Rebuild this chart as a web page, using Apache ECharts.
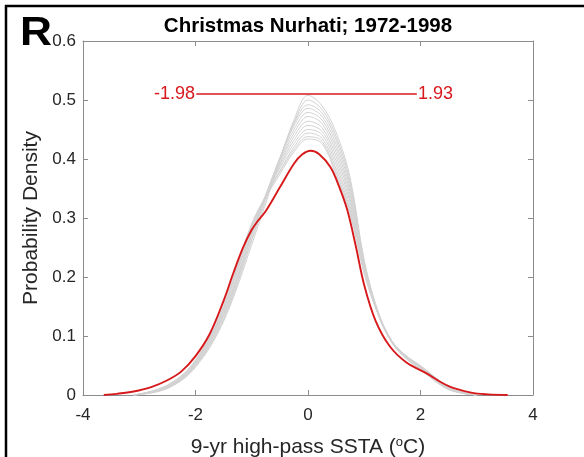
<!DOCTYPE html>
<html>
<head>
<meta charset="utf-8">
<script src="https://cdn.jsdelivr.net/npm/echarts@6/dist/echarts.min.js"></script>
<style>
  html, body { margin: 0; padding: 0; background: #fff; }
  #chart { width: 584px; height: 457px; }
</style>
</head>
<body>
<div id="chart"></div>
<script>
// Kernel density of the reconstruction (red) over the observed range
const redX = [-3.63, -3.4, -3.1, -2.8, -2.5, -2.25, -2.0, -1.75, -1.5, -1.33, -1.15, -1.0, -0.9, -0.75, -0.5, -0.25, -0.1, 0.05, 0.2, 0.4, 0.55, 0.7, 0.85, 1.0, 1.2, 1.45, 1.75, 2.1, 2.5, 2.9, 3.2, 3.55];
const redY = [0.0, 0.002, 0.006, 0.013, 0.025, 0.040, 0.066, 0.103, 0.160, 0.206, 0.251, 0.280, 0.294, 0.312, 0.352, 0.392, 0.408, 0.414, 0.408, 0.386, 0.354, 0.313, 0.252, 0.186, 0.126, 0.083, 0.055, 0.037, 0.015, 0.004, 0.001, 0.0];

// Ensemble of densities (grey), sampled on a shared x grid
const grayX = [-3.1, -2.8, -2.5, -2.2, -2.0, -1.75, -1.5, -1.25, -1.0, -0.75, -0.5, -0.25, 0, 0.25, 0.5, 0.75, 1.0, 1.25, 1.5, 1.75, 2.0, 2.25, 2.5, 2.8, 3.0];
const gray01 = [0, 0.003, 0.011, 0.028, 0.047, 0.080, 0.125, 0.185, 0.255, 0.325, 0.398, 0.466, 0.508, 0.490, 0.445, 0.368, 0.228, 0.140, 0.088, 0.062, 0.044, 0.024, 0.009, 0.002, 0];
const gray02 = [0, 0.004, 0.012, 0.030, 0.050, 0.084, 0.130, 0.192, 0.262, 0.330, 0.400, 0.462, 0.500, 0.484, 0.438, 0.362, 0.226, 0.140, 0.090, 0.063, 0.045, 0.026, 0.010, 0.002, 0];
const gray03 = [0, 0.004, 0.012, 0.029, 0.049, 0.082, 0.128, 0.190, 0.264, 0.335, 0.402, 0.460, 0.492, 0.478, 0.432, 0.356, 0.224, 0.137, 0.087, 0.061, 0.043, 0.025, 0.010, 0.002, 0];
const gray04 = [0, 0.005, 0.014, 0.032, 0.053, 0.088, 0.136, 0.198, 0.270, 0.338, 0.402, 0.456, 0.486, 0.472, 0.425, 0.350, 0.222, 0.138, 0.089, 0.063, 0.046, 0.027, 0.011, 0.003, 0];
const gray05 = [0, 0.004, 0.013, 0.031, 0.051, 0.086, 0.134, 0.197, 0.272, 0.340, 0.400, 0.450, 0.479, 0.466, 0.418, 0.344, 0.220, 0.136, 0.088, 0.064, 0.047, 0.028, 0.011, 0.003, 0];
const gray06 = [0, 0.005, 0.015, 0.034, 0.055, 0.092, 0.140, 0.204, 0.276, 0.338, 0.396, 0.444, 0.472, 0.460, 0.411, 0.338, 0.218, 0.137, 0.089, 0.064, 0.046, 0.027, 0.011, 0.003, 0];
const gray07 = [0, 0.004, 0.013, 0.031, 0.052, 0.088, 0.138, 0.202, 0.274, 0.336, 0.392, 0.438, 0.464, 0.453, 0.404, 0.332, 0.216, 0.138, 0.090, 0.065, 0.048, 0.029, 0.012, 0.003, 0];
const gray08 = [0, 0.005, 0.015, 0.034, 0.056, 0.094, 0.145, 0.210, 0.280, 0.336, 0.388, 0.432, 0.457, 0.447, 0.397, 0.326, 0.214, 0.135, 0.088, 0.064, 0.047, 0.028, 0.011, 0.003, 0];
const gray09 = [0, 0.005, 0.014, 0.033, 0.055, 0.092, 0.144, 0.212, 0.284, 0.338, 0.385, 0.426, 0.450, 0.441, 0.390, 0.320, 0.212, 0.137, 0.090, 0.066, 0.049, 0.030, 0.012, 0.003, 0];
const gray10 = [0, 0.006, 0.016, 0.036, 0.058, 0.097, 0.150, 0.216, 0.286, 0.336, 0.380, 0.420, 0.444, 0.435, 0.383, 0.314, 0.210, 0.136, 0.089, 0.065, 0.048, 0.029, 0.012, 0.003, 0];
const gray11 = [0, 0.005, 0.015, 0.035, 0.057, 0.095, 0.148, 0.218, 0.290, 0.338, 0.378, 0.416, 0.438, 0.430, 0.377, 0.310, 0.208, 0.137, 0.090, 0.066, 0.050, 0.031, 0.013, 0.003, 0];
const gray12 = [0, 0.006, 0.017, 0.037, 0.060, 0.100, 0.155, 0.222, 0.290, 0.335, 0.374, 0.412, 0.434, 0.426, 0.372, 0.306, 0.205, 0.136, 0.090, 0.066, 0.049, 0.030, 0.012, 0.003, 0];
const grayCurves = [gray01, gray02, gray03, gray04, gray05, gray06, gray07, gray08, gray09, gray10, gray11, gray12];

// Range bar: lower and upper bounds drawn at a fixed density level
const rangeLow = -1.98;
const rangeHigh = 1.93;
const rangeLevel = 0.51;

const RED = '#d7191c';
const AXIS = '#8c8c8c';
const TEXT = '#262626';
const FONT = '"Liberation Sans", Arial, Helvetica, sans-serif';

const pairs = (xs, ys) => xs.map((x, i) => [x, ys[i]]);

const series = grayCurves.map(ys => ({
  type: 'line',
  data: pairs(grayX, ys),
  smooth: 0.35,
  showSymbol: false,
  silent: true,
  z: 2,
  lineStyle: { color: '#d2d2d2', width: 1 }
}));

series.push({
  type: 'line',
  data: pairs(redX, redY),
  smooth: 0.35,
  showSymbol: false,
  z: 5,
  lineStyle: { color: RED, width: 1.9 }
});

series.push({
  type: 'line',
  data: [
    { value: [rangeLow, rangeLevel], label: { position: 'left', formatter: String(rangeLow) } },
    { value: [rangeHigh, rangeLevel], label: { position: 'right', formatter: String(rangeHigh) } }
  ],
  showSymbol: true,
  symbol: 'circle',
  symbolSize: 1,
  itemStyle: { color: RED },
  z: 6,
  lineStyle: { color: RED, width: 1.5 },
  label: { show: true, distance: 1, color: RED, fontSize: 18, fontFamily: FONT, padding: [3, 0, 0, 0] }
});

const axisCommon = {
  axisLine: { show: true, onZero: false, lineStyle: { color: AXIS, width: 1 } },
  axisTick: { show: true, inside: true, length: 5, lineStyle: { color: AXIS } },
  splitLine: { show: false }
};

const option = {
  backgroundColor: '#fff',
  animation: false,
  title: {
    text: 'Christmas Nurhati; 1972-1998',
    left: 303, top: 11, textAlign: 'center',
    textStyle: { fontFamily: FONT, fontWeight: 'bold', fontSize: 20.5, color: '#000' }
  },
  grid: { left: 83, right: 51, top: 41, bottom: 62, containLabel: false, outerBoundsMode: 'none' },
  xAxis: [
    Object.assign({
      type: 'value', min: -4, max: 4, interval: 2, position: 'bottom',
      name: '9-yr high-pass SSTA ({sup|o}C)',
      nameLocation: 'middle', nameGap: 41,
      nameTextStyle: {
        fontFamily: FONT, fontSize: 21, color: TEXT,
        rich: { sup: { fontFamily: FONT, fontSize: 13, color: TEXT, verticalAlign: 'top', padding: [0, 0, 10, 0] } }
      },
      axisLabel: { color: TEXT, fontSize: 17, fontFamily: FONT, margin: 12 }
    }, axisCommon),
    Object.assign({
      type: 'value', min: -4, max: 4, interval: 2, position: 'top',
      axisLabel: { show: false }
    }, axisCommon)
  ],
  yAxis: [
    Object.assign({
      type: 'value', min: 0, max: 0.6, interval: 0.1, position: 'left',
      name: 'Probability Density',
      nameLocation: 'middle', nameGap: 29, nameRotate: 90,
      nameTextStyle: { fontFamily: FONT, fontSize: 21, color: TEXT },
      axisLabel: { color: TEXT, fontSize: 17, fontFamily: FONT, margin: 7 }
    }, axisCommon),
    Object.assign({
      type: 'value', min: 0, max: 0.6, interval: 0.1, position: 'right',
      axisLabel: { show: false }
    }, axisCommon)
  ],
  graphic: [
    { type: 'text', x: 20, y: 13, scaleX: 1.08, style: { text: 'R', fontFamily: FONT, fontWeight: 'bold', fontSize: 41, fill: '#000' } },
    { type: 'line', shape: { x1: 5, y1: 6, x2: 584, y2: 6 }, style: { stroke: '#000', lineWidth: 2.5 } },
    { type: 'line', shape: { x1: 6, y1: 5, x2: 6, y2: 457 }, style: { stroke: '#000', lineWidth: 2.5 } }
  ],
  series: series
};

const chart = echarts.init(document.getElementById('chart'), null, { renderer: 'canvas' });
chart.setOption(option);
</script>
</body>
</html>
